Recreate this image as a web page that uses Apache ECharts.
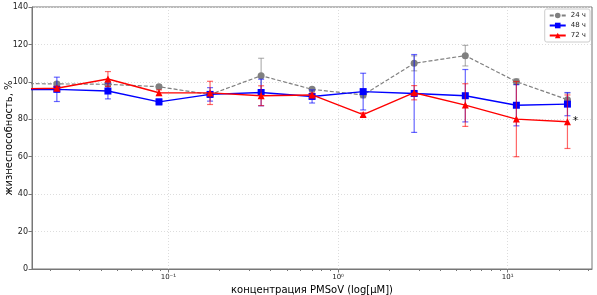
<!DOCTYPE html>
<html>
<head>
<meta charset="utf-8">
<script src="https://cdn.jsdelivr.net/npm/echarts@6/dist/echarts.min.js"></script>
<style>
  html, body { margin: 0; padding: 0; background: #fff; }
  #chart { width: 597px; height: 295px; }
</style>
</head>
<body>
<div id="chart"></div>
<script>
// concentrations, µM (twofold dilution); first one is the control off the left edge
const conc = [0.011, 0.022, 0.044, 0.088, 0.176, 0.352, 0.703, 1.406, 2.81, 5.625, 11.25, 22.5];

const v24 = [99.2, 98.9, 98.7, 97.4, 93.2, 103.3, 96.0, 93.0, 109.9, 114.0, 100.1, 90.5];
const v48 = [95.8, 96.0, 95.1, 89.3, 93.3, 94.3, 92.2, 94.8, 93.8, 92.6, 87.5, 88.1];
const v72 = [96.2, 96.6, 101.5, 94.2, 94.1, 92.6, 93.0, 82.5, 94.2, 87.6, 80.1, 78.7];

// error bar half-widths (for the measured points, without control)
const e24 = [1.0, 1.0, 1.0, 1.5, 9.3, 1.0, 1.5, 4.0, 5.5, 1.5, 3.5];
const e48 = [6.5, 4.2, 1.5, 3.6, 7.1, 3.5, 9.8, 20.8, 14.0, 11.0, 6.2];
const e72 = [1.0, 4.0, 1.5, 6.2, 5.3, 1.0, 1.0, 3.8, 11.4, 20.1, 14.3];

const yTicks = [0, 20, 40, 60, 80, 100, 120, 140];
const xMajor = [0.1, 1, 10];
const xMinor = [0.02, 0.03, 0.04, 0.05, 0.06, 0.07, 0.08, 0.09,
  0.2, 0.3, 0.4, 0.5, 0.6, 0.7, 0.8, 0.9, 2, 3, 4, 5, 6, 7, 8, 9, 20, 30];

const FONT = 'DejaVu Sans';
const sup = {'-': '⁻', '0': '⁰', '1': '¹', '2': '²', '3': '³'};

function pts(vals) {
  return conc.map((c, i) => [c, vals[i]]);
}
function errs(vals, e) {
  return e.map((d, i) => [conc[i + 1], vals[i + 1] - d, vals[i + 1] + d]);
}
function errRender(color) {
  return function (params, api) {
    const x = api.value(0);
    const lo = api.coord([x, api.value(1)]);
    const hi = api.coord([x, api.value(2)]);
    const w = 3;
    const st = { stroke: color, lineWidth: 1.2 };
    return {
      type: 'group',
      children: [
        { type: 'line', shape: { x1: lo[0], y1: lo[1], x2: hi[0], y2: hi[1] }, style: st },
        { type: 'line', shape: { x1: lo[0] - w, y1: lo[1], x2: lo[0] + w, y2: lo[1] }, style: st },
        { type: 'line', shape: { x1: hi[0] - w, y1: hi[1], x2: hi[0] + w, y2: hi[1] }, style: st }
      ]
    };
  };
}

const d72 = pts(v72);
d72[d72.length - 1] = {
  value: d72[d72.length - 1],
  label: { show: true, formatter: '*', position: 'right', distance: 2, fontSize: 10, color: '#000', fontFamily: FONT }
};

const chart = echarts.init(document.getElementById('chart'));
chart.setOption({
  animation: false,
  grid: {
    left: 32, right: 5, top: 7, bottom: 26, outerBoundsMode: 'none', containLabel: false,
    show: true, borderColor: '#777', borderWidth: 1
  },
  legend: {
    orient: 'vertical', right: 7, top: 9,
    itemWidth: 16, itemHeight: 7, itemGap: 3,
    padding: [3, 4], borderColor: '#ccc', borderWidth: 1, borderRadius: 2, backgroundColor: '#fff',
    textStyle: { fontSize: 7, fontFamily: FONT, color: '#222' },
    data: ['24 ч', '48 ч', '72 ч']
  },
  xAxis: [{
    type: 'log', logBase: 10, min: 0.0157, max: 31.4,
    name: 'концентрация PMSoV (log[μM])', nameLocation: 'middle', nameGap: 16, nameMoveOverlap: false,
    nameTextStyle: { fontSize: 10, fontFamily: FONT, color: '#000' },
    axisLine: { show: true, lineStyle: { color: '#777' } },
    axisTick: { show: true, length: 3.5, customValues: xMajor, lineStyle: { color: '#777' } },
    axisLabel: {
      customValues: xMajor, fontSize: 7, fontFamily: FONT, color: '#222', margin: 5,
      formatter: v => '10' + String(Math.round(Math.log10(v))).split('').map(ch => sup[ch]).join('')
    },
    splitLine: { show: true, customValues: xMajor, lineStyle: { color: '#ddd', type: [1, 2] } }
  }, {
    type: 'log', logBase: 10, min: 0.0157, max: 31.4, position: 'bottom',
    axisLine: { show: false },
    axisTick: { show: true, length: 2, customValues: xMinor, lineStyle: { color: '#777' } },
    axisLabel: { show: false },
    splitLine: { show: false }
  }],
  yAxis: {
    type: 'value', min: 0, max: 140, interval: 20,
    name: 'жизнеспособность, %', nameLocation: 'middle', nameGap: 18, nameMoveOverlap: false,
    nameTextStyle: { fontSize: 10, fontFamily: FONT, color: '#000' },
    axisLine: { show: true, lineStyle: { color: '#777' } },
    axisTick: { show: true, length: 3.5, lineStyle: { color: '#777' } },
    axisLabel: { fontSize: 8, fontFamily: FONT, color: '#222', margin: 4, formatter: v => yTicks.includes(v) ? String(v) : '' },
    splitLine: { show: true, lineStyle: { color: '#ddd', type: [1, 2] } }
  },
  series: [
    { type: 'custom', renderItem: errRender('rgba(128,128,128,0.6)'), data: errs(v24, e24), z: 2, silent: true },
    {
      name: '24 ч', type: 'line', data: pts(v24), symbol: 'circle', symbolSize: 7, z: 3,
      itemStyle: { color: '#808080' }, lineStyle: { color: '#808080', width: 1.2, type: [4, 2] }
    },
    { type: 'custom', renderItem: errRender('rgba(0,0,255,0.6)'), data: errs(v48, e48), z: 4, silent: true },
    {
      name: '48 ч', type: 'line', data: pts(v48), symbol: 'rect', symbolSize: 7, z: 5,
      itemStyle: { color: '#0000ff' }, lineStyle: { color: '#0000ff', width: 1.4 }
    },
    { type: 'custom', renderItem: errRender('rgba(255,0,0,0.6)'), data: errs(v72, e72), z: 6, silent: true },
    {
      name: '72 ч', type: 'line', data: d72, symbol: 'triangle', symbolSize: 7, z: 7,
      itemStyle: { color: '#ff0000' }, lineStyle: { color: '#ff0000', width: 1.4 }
    }
  ]
});
</script>
</body>
</html>
